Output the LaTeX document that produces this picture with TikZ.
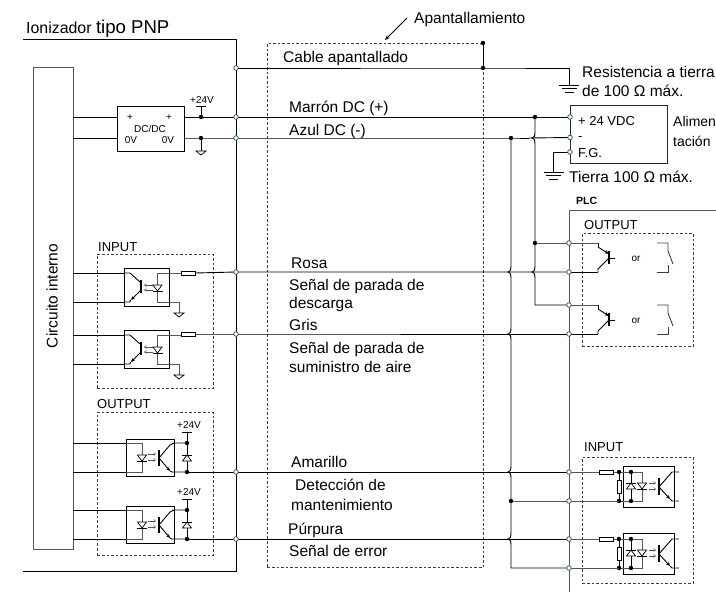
\documentclass[tikz,border=0pt]{standalone}
\usepackage{fontspec}
\setmainfont{Liberation Sans}
\usetikzlibrary{arrows.meta}
\definecolor{term}{HTML}{2C5A70}
\definecolor{dashc}{HTML}{333F48}
\definecolor{gw}{HTML}{555555}
\tikzset{
 wire/.style={draw=black,line width=0.9pt},
 gwire/.style={draw=gw,line width=0.9pt},
 dashbox/.style={draw=dashc,line width=0.8pt,dash pattern=on 2.6pt off 2pt},
 term/.style={circle,draw=term,fill=white,line width=0.8pt,minimum size=4.6pt,inner sep=0pt},
 jdot/.style={circle,fill=black,minimum size=4.4pt,inner sep=0pt},
 lab/.style={anchor=base west,inner sep=0pt,font=\fontsize{15.5}{18}\selectfont},
 mid/.style={anchor=base west,inner sep=0pt,font=\fontsize{13}{15}\selectfont},
 sm/.style={inner sep=0pt,font=\fontsize{10}{12}\selectfont},
 res/.style={draw=black,fill=white,line width=0.8pt},
 optobox/.style={draw=black,line width=0.9pt},
 ray/.style={draw=gw,line width=0.5pt,-{Straight Barb[length=2pt,width=3pt]}},
 pics/dioup/.style={code={
   \draw[fill=white,line width=0.7pt] (-4.5,3)--(4.5,3)--(0,-3)--cycle;
   \draw[line width=0.7pt] (-5,-3)--(5,-3);}},
 pics/diodown/.style={code={
   \draw[fill=white,line width=0.7pt] (-4.5,-3)--(4.5,-3)--(0,3)--cycle;
   \draw[line width=0.7pt] (-5,3)--(5,3);}},
 pics/gnd/.style={code={
   \draw[line width=0.7pt] (-5,0)--(5,0)--(0,4)--cycle;}},
 pics/biggnd/.style={code={
   \draw[line width=0.7pt] (-10,0)--(10,0) (-7.5,3.5)--(7.5,3.5) (-4.5,7)--(4.5,7);}},
 pics/optoA/.style={code={
   \draw[optobox] (0,0) rectangle (45,38);
   \coordinate (-c) at (0,5);
   \coordinate (-e) at (0,34);
   \coordinate (-o) at (57,5);
   \coordinate (-g) at (55,45);
   \draw[wire] (0,5)--(6,5)--(16,14);
   \draw[wire,-{Stealth[length=4pt,width=3.5pt]}] (17,22)--(7,32);
   \draw[wire] (6.5,32)--(6,34)--(0,34);
   \draw[line width=1.1pt] (17,12)--(17,25);
   \draw[ray] (29,17)--(20,17);
   \draw[ray] (29,22)--(20,22);
   \draw[gwire] (57,5)--(33,5)--(33,34)--(55,34)--(55,45);
   \path (33.5,20) pic {diodown};
 }},
 pics/optoB/.style={code={
   \draw[optobox] (0,0) rectangle (48,37);
   \coordinate (-a) at (0,4);
   \coordinate (-k) at (0,33);
   \coordinate (-e) at (61,33);
   \draw[gwire] (0,4)--(16,4)--(16,33)--(0,33);
   \path (16,19) pic {diodown};
   \draw[ray] (22,15)--(30,15);
   \draw[ray] (22,21)--(30,21);
   \draw[line width=1.1pt] (33,11)--(33,27);
   \draw[wire] (33,19)--(44,6)--(48,4)--(61,4);
   \draw[wire,-{Stealth[length=4pt,width=3.5pt]}] (33,19)--(44,32);
   \draw[wire] (44,32)--(46,33)--(61,33);
   \draw[wire] (61,-7)--(61,33) (56,-7)--(66,-7);
   \path (61,19) pic {dioup};
   \node[jdot] at (61,4) {};
   \node[jdot] at (61,33) {};
   \node[sm] at (63,-14) {+24V};
 }},
 pics/optoC/.style={code={
   \draw[optobox] (0,0) rectangle (51,41);
   \coordinate (-a) at (-24,6);
   \coordinate (-k) at (-4,35);
   \draw[gwire] (-24,6)--(19,6)--(19,35)--(-4,35);
   \draw[res] (-24,4) rectangle (-10,8);
   \draw[wire] (-4,6)--(-4,35) (8,6)--(8,35);
   \draw[res] (-6,14) rectangle (-2,27);
   \path (8,20) pic {dioup};
   \path (19,20) pic {diodown};
   \foreach \p in {(-4,6),(8,6),(-4,35),(8,35)} \node[jdot] at \p {};
   \draw[ray] (26,17)--(33,17);
   \draw[ray] (26,23)--(33,23);
   \draw[line width=1.1pt] (36,12)--(36,29);
   \draw[wire] (36,21)--(49,6)--(56,6);
   \draw[wire,-{Stealth[length=4pt,width=3.5pt]}] (36,21)--(47,33);
   \draw[wire] (47,33)--(49,35)--(56,35);
 }},
 pics/plcout/.style={code={
   \coordinate (-c) at (29,0);
   \coordinate (-e) at (29,29);
   \draw[wire] (29,0)--(29,4);
   \draw[wire,-{Stealth[length=4.5pt,width=3.5pt]}] (29,4)--(40,11);
   \draw[wire] (29,29)--(29,26)--(40,15);
   \draw[line width=1.1pt] (40,8)--(40,21);
   \draw[line width=0.8pt] (40,15)--(46,15);
   \node[sm] at (67,16) {or};
   \draw[draw=dashc,line width=0.9pt] (88,0)--(99,0)--(99,8)--(104,21);
   \draw[draw=dashc,line width=0.9pt] (88,29)--(99,29)--(99,22);
 }},
}
\begin{document}
\begin{tikzpicture}[x=1pt,y=-1pt]
\useasboundingbox (0,0) rectangle (716,592);
\clip (0,0) rectangle (716,592);

\foreach \n/\y in {L/68,Mh/117,Ah/138,R/272,G/334,Y/472,P/539}{
  \coordinate (i\n) at (236,\y);
}
\coordinate (s1) at (483,43);
\coordinate (s2) at (483,68);
\coordinate (sg) at (569,68);
\coordinate (sgb) at (569,85);
\coordinate (pwrP) at (570,117);
\coordinate (pwrN) at (570,137.5);
\coordinate (pwrF) at (570,152);
\coordinate (jB) at (535,117);
\coordinate (jA) at (511,138);
\foreach \n/\y in {a/243,b/272,c/305,d/334,e/472,f/501,g/539,h/568}{
  \coordinate (p\n) at (569,\y);
}

\draw[wire] (23,39)--(236,39)--(236,571)--(23,571);
\node[anchor=base west,inner sep=0pt] (title) at (26,33) {\fontsize{15.9}{18}\selectfont Ionizador \fontsize{18.6}{20}\selectfont tipo PNP};

\node[draw=gw,line width=1pt,inner sep=0pt,minimum width=40pt,minimum height=482pt,anchor=north west] (cir) at (33,67) {};
\node[rotate=90,inner sep=0pt,font=\fontsize{15.5}{18}\selectfont] (cirl) at (52,296) {Circuito interno};

\node[draw=black,line width=0.9pt,inner sep=0pt,minimum width=67pt,minimum height=45pt,anchor=north west] (dc) at (117,106) {};
\node[sm] at (130,118) {+};
\node[sm] at (169,118) {+};
\node[sm] at (150,129) {DC/DC};
\node[sm] at (131,140) {0V};
\node[sm] at (168,140) {0V};
\draw[wire] (73,117)--(dc.west|-0,117) (73,138)--(dc.west|-0,138);
\draw[wire] (dc.east|-0,117)--(pwrP);
\draw[wire] (dc.east|-0,138)--(jA)--(529,138);
\draw[wire] (529,138)--(pwrN);
\draw[wire] (201,106)--(201,117) (196,106)--(206,106);
\draw[wire] (201,138)--(201,151);
\path (201,151) pic {gnd};
\node[jdot] at (201,117) {};
\node[jdot] at (201,138) {};
\node[sm] at (202,100) {+24V};

\node[dashbox,inner sep=0pt,minimum width=116pt,minimum height=134pt,anchor=north west] (inbox) at (97,254) {};
\node[mid] (inl) at (98,251) {INPUT};
\path (124,268) pic (oa1) {optoA};
\path (124,330) pic (oa2) {optoA};
\draw[wire] (73,273)--(oa1-c) (73,302)--(oa1-e);
\draw[wire] (73,335)--(oa2-c) (73,364)--(oa2-e);
\draw[res] (181,271) rectangle (195,275);
\draw[res] (181,332) rectangle (195,336);
\path (oa1-g) pic {gnd};
\path (oa2-g) pic {gnd};

\node[dashbox,inner sep=0pt,minimum width=116pt,minimum height=143pt,anchor=north west] (outbox) at (97,412) {};
\node[mid] (outl) at (97,408) {OUTPUT};
\path (126,439) pic (ob1) {optoB};
\path (126,506) pic (ob2) {optoB};
\draw[wire] (73,443)--(ob1-a) (73,472)--(ob1-k);
\draw[wire] (73,510)--(ob2-a) (73,539)--(ob2-k);

\node[dashbox,inner sep=0pt,minimum width=216pt,minimum height=524pt,anchor=north west] (shield) at (267,43) {};
\draw[wire] (s1)--(s2);

\draw[wire] (iL)--(s2)--(sg)--(sgb);
\path (sgb) pic {biggnd};
\draw[wire] (ob1-e)--(pe);
\draw[wire] (ob2-e)--(pg);
\draw[wire] (195,273)--(iR)--(pb);
\draw[wire] (195,334)--(iG)--(pd);

\node[draw=black!85,line width=0.9pt,inner sep=0pt,minimum width=97pt,minimum height=58pt,anchor=north west] (psu) at (570,105) {};
\node[mid] at (578,125) {+ 24 VDC};
\node[mid] at (578,140) {-};
\node[mid] at (578,157) {F.G.};
\node[lab,font=\fontsize{14}{16}\selectfont] at (673,126) {Alimen};
\node[lab,font=\fontsize{14}{16}\selectfont] at (673,146) {tación};
\node[lab] at (582,77) {Resistencia a tierra};
\node[lab] at (582,96) {de 100 Ω máx.};
\draw[wire] (pwrF)--(553,152)--(553,172);
\path (553.5,172) pic {biggnd};
\node[lab] at (569,182) {Tierra 100 Ω máx.};

\draw[wire] (jB)--(535,132) .. controls (535,136) and (534,138) .. (532,138) .. controls (534,138) and (535,140) .. (535,144)
   -- (535,266) .. controls (535,270) and (534,272) .. (532,272) .. controls (534,272) and (535,274) .. (535,278)
   -- (535,305)--(pc);
\draw[wire] (jA)--(511,266) .. controls (511,270) and (510,272) .. (508,272) .. controls (510,272) and (511,274) .. (511,278)
   -- (511,328) .. controls (511,332) and (510,334) .. (508,334) .. controls (510,334) and (511,336) .. (511,340)
   -- (511,466) .. controls (511,470) and (510,472) .. (508,472) .. controls (510,472) and (511,474) .. (511,478)
   -- (511,533) .. controls (511,537) and (510,539) .. (508,539) .. controls (510,539) and (511,541) .. (511,545)
   -- (511,568)--(ph);
\draw[gwire] (535,243)--(pa);
\draw[gwire] (511,501)--(pf);
\foreach \c in {s1,s2,jB,jA}{\node[jdot] at (\c) {};}
\node[jdot] at (535,243) {};
\node[jdot] at (511,501) {};

\draw[gwire] (569,592)--(569,210)--(716,210);
\node[anchor=base west,inner sep=0pt,font=\fontsize{10.5}{12}\bfseries\selectfont] (plc) at (576,204) {PLC};

\node[dashbox,inner sep=0pt,minimum width=111pt,minimum height=113pt,anchor=north west] (pob) at (582,233) {};
\node[mid] (pol) at (584,229) {OUTPUT};
\path (569,243) pic (po1) {plcout};
\path (569,305) pic (po2) {plcout};
\draw[gwire] (pa)--(po1-c);
\draw[wire] (pb)--(po1-e);
\draw[gwire] (pc)--(po2-c);
\draw[wire] (pd)--(po2-e);

\node[dashbox,inner sep=0pt,minimum width=111pt,minimum height=126pt,anchor=north west] (pib) at (582,457) {};
\node[mid] (pil) at (584,451) {INPUT};
\path (623,466) pic (oc1) {optoC};
\path (623,533) pic (oc2) {optoC};
\draw[gwire] (pe)--(oc1-a);
\draw[gwire] (pf)--(oc1-k);
\draw[gwire] (pg)--(oc2-a);
\draw[gwire] (ph)--(oc2-k);

\foreach \c in {iL,iMh,iAh,iR,iG,iY,iP,pa,pb,pc,pd,pe,pf,pg,ph,pwrP,pwrN,pwrF}{\node[term] at (\c) {};}

\node[lab] (t1) at (283,62) {Cable apantallado};
\node[lab] (t2) at (289,112) {Marrón DC (+)};
\node[lab] (t3) at (289,135) {Azul DC (-)};
\node[lab] (t4) at (291,268) {Rosa};
\node[lab] (t5) at (289,290) {Señal de parada de};
\node[lab] (t6) at (289,308) {descarga};
\node[lab] (t7) at (289,330) {Gris};
\node[lab] (t8) at (289,353) {Señal de parada de};
\node[lab] (t9) at (289,372) {suministro de aire};
\node[lab] (t10) at (291,467) {Amarillo};
\node[lab] (t11) at (295,490) {Detección de};
\node[lab] (t12) at (291,510) {mantenimiento};
\node[lab] (t13) at (288,534) {Púrpura};
\node[lab] (t14) at (289,556) {Señal de error};

\node[lab] (ap) at (414,23) {Apantallamiento};
\coordinate (apend) at (385,40);
\draw[line width=0.8pt,-{Stealth[length=5pt,width=4pt]}] (407,18)--(apend);
\end{tikzpicture}
\end{document}
